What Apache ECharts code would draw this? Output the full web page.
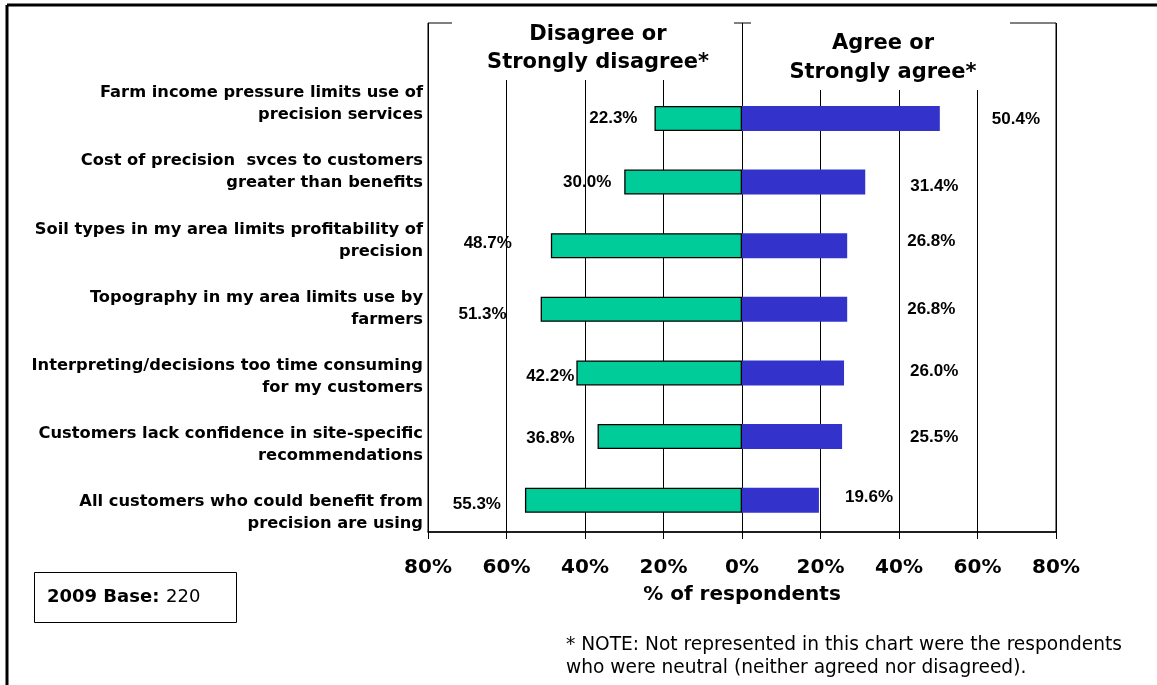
<!DOCTYPE html>
<html>
<head>
<meta charset="utf-8">
<script src="https://cdn.jsdelivr.net/npm/echarts@6/dist/echarts.min.js"></script>
<style>
html,body{margin:0;padding:0;background:#fff;}
#chart{width:1157px;height:685px;}
</style>
</head>
<body>
<div id="chart"></div>
<script>
// ---- data ----
const categories = [
  'Farm income pressure limits use of\nprecision services',
  'Cost of precision  svces to customers\ngreater than benefits',
  'Soil types in my area limits profitability of\nprecision',
  'Topography in my area limits use by\nfarmers',
  'Interpreting/decisions too time consuming\nfor my customers',
  'Customers lack confidence in site-specific\nrecommendations',
  'All customers who could benefit from\nprecision are using'
];
const disagree = [22.3, 30.0, 48.7, 51.3, 42.2, 36.8, 55.3];
const agree = [50.4, 31.4, 26.8, 26.8, 26.0, 25.5, 19.6];
const seriesNames = ['Disagree or Strongly disagree*', 'Agree or Strongly agree*'];
const baseYear = '2009 Base:';
const baseValue = '220';

// ---- label layout (gap from bar end, vertical nudge) ----
const disagreeGap = [17, 13, 39, 34, 2, 23, 24];
const disagreeDy = [0, 0, -2, 5, 3, 2, 4];
const agreeGap = [52, 45, 60, 60, 66, 68, 26];
const agreeDy = [1, 4, -4, 0, -2, 1, -3];

const FONT = '"DejaVu Sans", "Liberation Sans", Arial, sans-serif';
const FONT2 = '"Liberation Sans", Arial, sans-serif';

const chart = echarts.init(document.getElementById('chart'), null, {renderer: 'canvas'});

// main axis: one empty slot on top (space for headings), then the categories
const mainCats = [''].concat(categories.map((c, i) => 'c' + i));

const disData = [{value: '-'}].concat(disagree.map((v, i) => ({
  value: -v,
  label: {distance: disagreeGap[i], offset: [0, disagreeDy[i]]}
})));
const agrData = [{value: '-'}].concat(agree.map((v, i) => ({
  value: v,
  label: {distance: agreeGap[i], offset: [0, agreeDy[i]]}
})));

const labelStyle = {
  show: true,
  fontFamily: FONT2,
  fontWeight: 'bold',
  fontSize: 17,
  color: '#000',
  formatter: p => Math.abs(p.value).toFixed(1) + '%'
};

const option = {
  backgroundColor: '#fff',
  animation: false,
  grid: [
    {left: 428, right: 101, top: 23, bottom: 153, show: true, borderColor: '#000', borderWidth: 1, backgroundColor: 'transparent'},
    {left: 0, right: 729, top: 70, height: 477}
  ],
  xAxis: [
    {
      gridIndex: 0, type: 'value', min: -80, max: 80, interval: 20,
      axisLine: {show: true, onZero: false, lineStyle: {color: '#000', width: 1.5}},
      axisTick: {show: true, length: 7, lineStyle: {color: '#000'}},
      splitLine: {show: true, lineStyle: {color: '#000', width: 1}},
      axisLabel: {
        formatter: v => Math.abs(v) + '%',
        fontFamily: FONT, fontWeight: 'bold', fontSize: 20, color: '#000', margin: 26
      },
      name: '% of respondents', nameLocation: 'middle', nameGap: 53,
      nameTextStyle: {fontFamily: FONT, fontWeight: 'bold', fontSize: 20, color: '#000'}
    },
    {gridIndex: 1, type: 'value', show: false}
  ],
  yAxis: [
    {
      gridIndex: 0, type: 'category', inverse: true, data: mainCats,
      axisLine: {show: false}, axisTick: {show: false}, axisLabel: {show: false}, splitLine: {show: false}
    },
    {
      gridIndex: 1, type: 'category', inverse: true, data: categories,
      position: 'right',
      axisLine: {show: false}, axisTick: {show: false}, splitLine: {show: false},
      axisLabel: {
        inside: true, margin: 5, align: 'right',
        fontFamily: FONT, fontWeight: 'bold', fontSize: 16.3, lineHeight: 22, color: '#000'
      }
    }
  ],
  series: [
    {
      name: seriesNames[0], type: 'bar', xAxisIndex: 0, yAxisIndex: 0,
      data: disData, barWidth: 25, barGap: '-100%',
      itemStyle: {color: '#00CC99', borderColor: '#000', borderWidth: 1.3},
      label: Object.assign({position: 'left'}, labelStyle)
    },
    {
      name: seriesNames[1], type: 'bar', xAxisIndex: 0, yAxisIndex: 0,
      data: agrData, barWidth: 25, barGap: '-100%',
      itemStyle: {color: '#3333CC'},
      label: Object.assign({position: 'right'}, labelStyle)
    }
  ],
  graphic: [
    // outer frame (top and left edges visible)
    {type: 'line', z: 100, shape: {x1: 7, y1: 5, x2: 1157, y2: 5}, style: {stroke: '#000', lineWidth: 3}},
    {type: 'line', z: 100, shape: {x1: 7, y1: 5, x2: 7, y2: 685}, style: {stroke: '#000', lineWidth: 3}},
    // heading boxes
    {type: 'rect', z: 50, shape: {x: 452, y: 22, width: 282, height: 58}, style: {fill: '#fff'}},
    {type: 'rect', z: 50, shape: {x: 751, y: 22, width: 259, height: 68}, style: {fill: '#fff'}},
    {type: 'text', z: 60, x: 598, y: 49, style: {
      text: 'Disagree or\nStrongly disagree*', fill: '#000', align: 'center', verticalAlign: 'middle',
      font: 'bold 21px ' + FONT, lineHeight: 28
    }},
    {type: 'text', z: 60, x: 883, y: 58, style: {
      text: 'Agree or\nStrongly agree*', fill: '#000', align: 'center', verticalAlign: 'middle',
      font: 'bold 21px ' + FONT, lineHeight: 29
    }},
    // base box
    {type: 'rect', z: 50, shape: {x: 34.5, y: 572.5, width: 202, height: 50}, style: {fill: '#fff', stroke: '#000', lineWidth: 1}},
    {type: 'text', z: 60, x: 47, y: 597, style: {
      text: '{b|' + baseYear + '}  {n|' + baseValue + '}', verticalAlign: 'middle', align: 'left',
      rich: {
        b: {fontFamily: FONT, fontWeight: 'bold', fontSize: 18, fill: '#000'},
        n: {fontFamily: FONT, fontSize: 18, fill: '#000'}
      }
    }},
    // note
    {type: 'text', z: 60, x: 566, y: 657, style: {
      text: '* NOTE: Not represented in this chart were the respondents\nwho were neutral (neither agreed nor disagreed).',
      fill: '#000', align: 'left', verticalAlign: 'middle', font: '18.6px ' + FONT, lineHeight: 23
    }}
  ]
};

chart.setOption(option);
</script>
</body>
</html>
